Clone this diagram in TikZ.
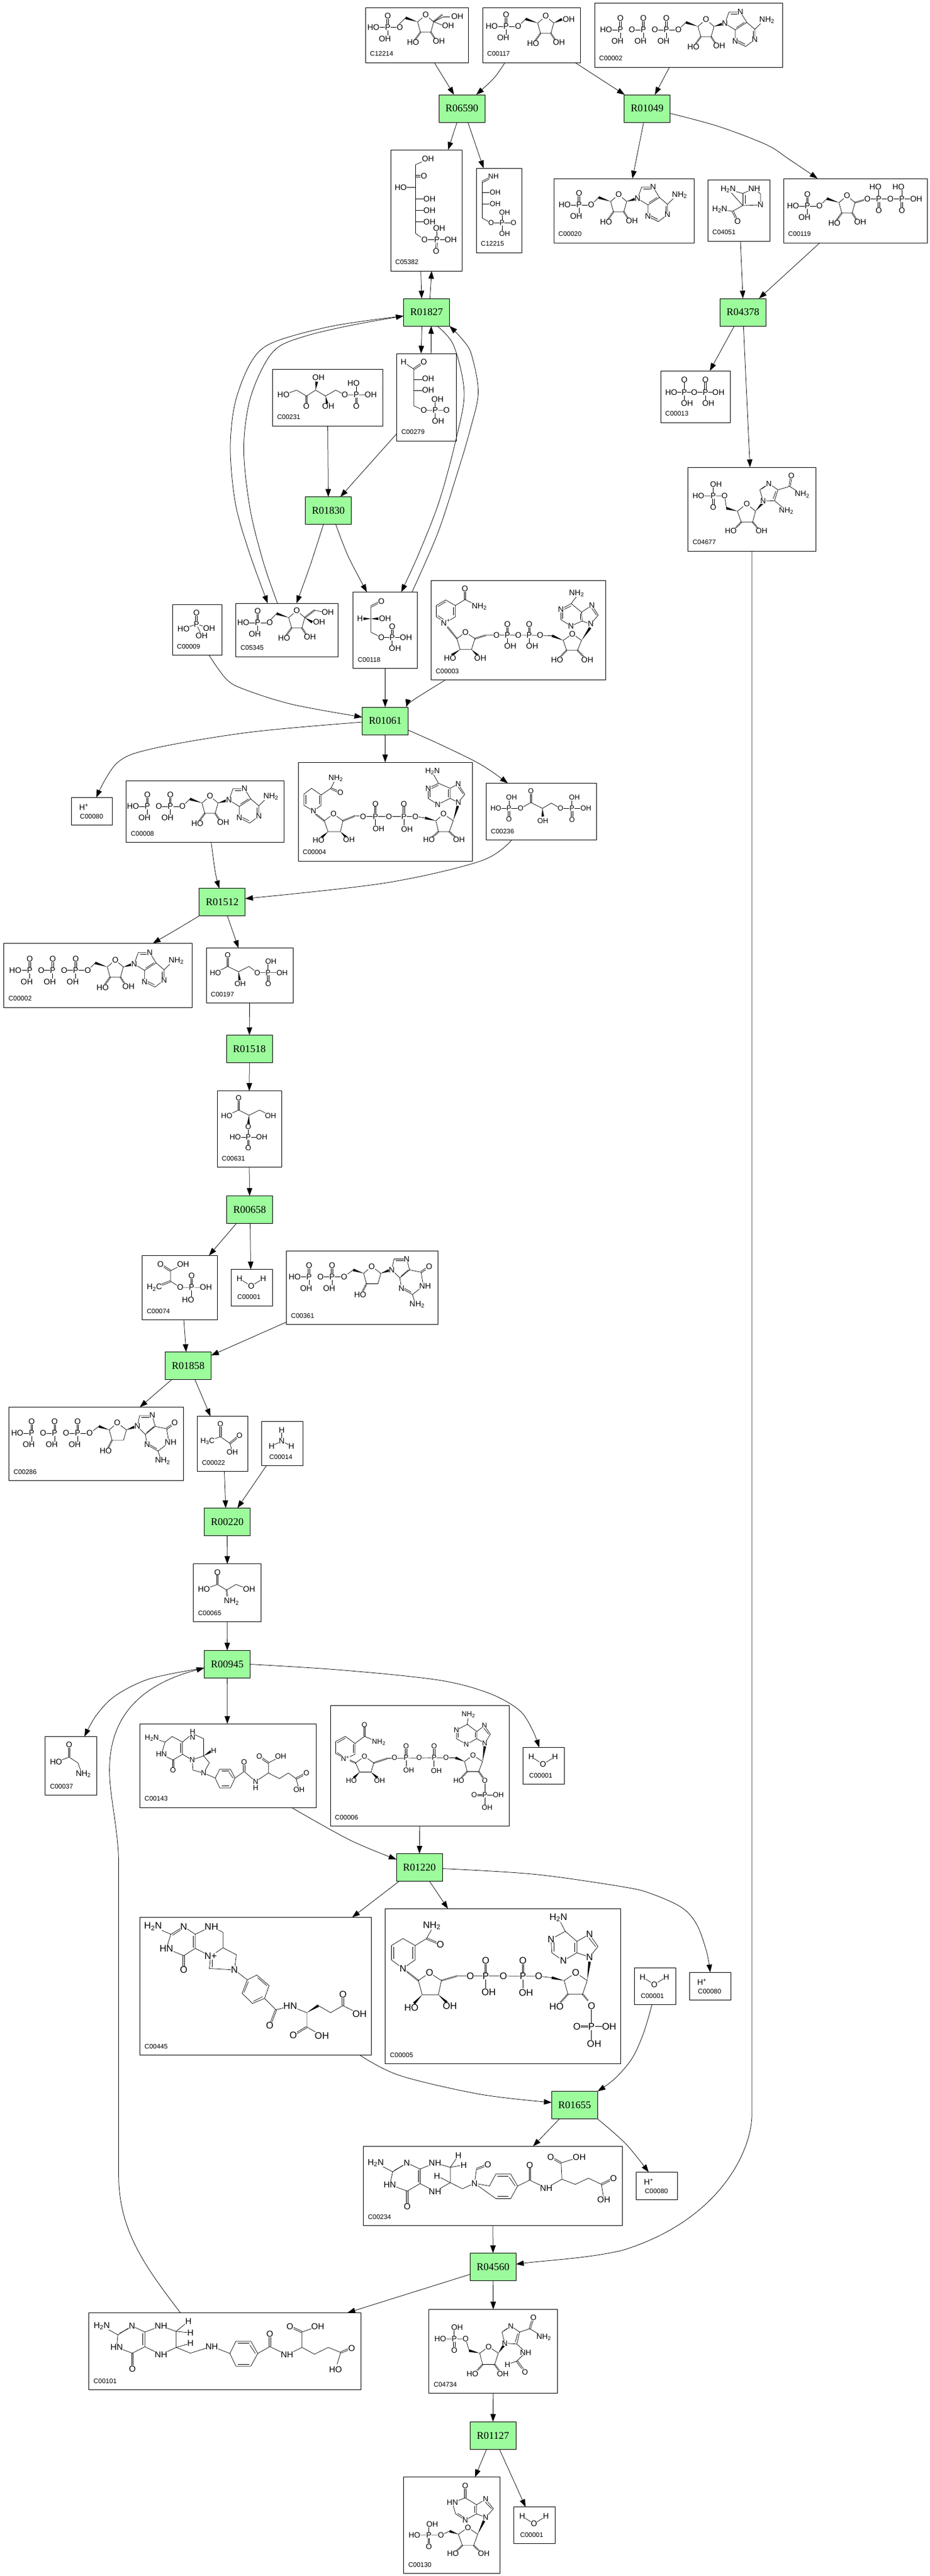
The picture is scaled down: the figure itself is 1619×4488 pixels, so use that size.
\documentclass[tikz,border=0pt]{standalone}
\usepackage{fontspec}
\setmainfont{Liberation Sans}
\newfontfamily\rxfont{Liberation Serif}
\usetikzlibrary{arrows.meta,calc}
\definecolor{rxgreen}{HTML}{9CFC9C}
\newcount\atc
\newif\ifatoms
\tikzset{
 cpd/.style={draw=black,line width=.9pt,fill=white,inner sep=0pt,outer sep=0pt},
 rxn/.style={draw=black,line width=.9pt,fill=rxgreen,inner sep=0pt,outer sep=0pt,minimum width=80pt,minimum height=48pt,font=\rxfont\fontsize{18}{18}\selectfont},
 idl/.style={anchor=west,inner sep=0pt,font=\fontsize{11.5}{11.5}\selectfont},
 edge/.style={draw=black,line width=.75pt,-{Triangle[length=13.5pt,width=9.5pt]}},
 bond/.style={draw=black,line width=.7pt},
 hash/.style={draw=black,line width=3pt,dash pattern=on .7pt off 1pt},
 atom/.style={fill=white,inner sep=.3pt,font=\fontsize{\fsz}{\fsz}\selectfont}
}
\newcommand\Rx[4]{\node[rxn] (#1) at (#2,#3) {#4};}
\newcommand\Cpd[7][8]{\pgfmathsetmacro\cx{(#3+#5)/2}\pgfmathsetmacro\cy{(#4+#6)/2}\pgfmathsetmacro\cw{#5-#3}\pgfmathsetmacro\ch{#6-#4}%
 \node[cpd,minimum width=\cw pt,minimum height=\ch pt] (#2) at (\cx,\cy) {};
 \node[idl] (#2-id) at ([xshift=#1,yshift=15]#2.south west) {#7};}
\newcommand\El[2]{\draw[edge] #1 -- #2;}
\newcommand\Ed[1]{\draw[edge] plot[smooth,tension=.55] coordinates {#1};}
\newcommand\Mol[4]{\begin{scope}[shift={(#1.north west)},x=#2pt,y=-#2pt]\def\fsz{#3}\atomsfalse #4\atomstrue #4\end{scope}}
\newcommand\At[3]{\ifatoms\global\advance\atc by 1 \node[atom] (at\the\atc) at (#1,#2) {#3};\fi}
\newcommand\Bd[1]{\ifatoms\else\draw[bond] #1;\fi}
\newcommand\Db[2]{\ifatoms\else\draw[bond] ($#1!1.2pt!90:#2$) -- ($#2!1.2pt!-90:#1$);\draw[bond] ($#1!1.2pt!-90:#2$) -- ($#2!1.2pt!90:#1$);\fi}
\newcommand\Wg[2]{\ifatoms\else\fill[black] #1 -- ($#2!2.3pt!90:#1$) -- ($#2!2.3pt!-90:#1$) -- cycle;\fi}
\newcommand\Hs[2]{\ifatoms\else\draw[hash] #1 -- #2;\fi}
\newcommand\Nt{NH\textsubscript{2}}
\newcommand\Nl{H\textsubscript{2}N}
\newcommand\Rib[2]{\begin{scope}[shift={(#1,#2)}]
 \Bd{(0,0)--(-14,12)--(-9,30)--(9,30)--(14,12)--cycle}
 \Wg{(-14,12)}{(-35,5)}\Bd{(-35,5)--(-48,18)}
 \Hs{(-9,30)}{(-19,44)}\Hs{(9,30)}{(18,44)}
 \At{0}{0}{O}\At{-22}{48}{HO}\At{23}{46}{OH}\end{scope}}
\newcommand\dRib[2]{\begin{scope}[shift={(#1,#2)}]
 \Bd{(0,0)--(-14,12)--(-9,30)--(11,30)--(16,12)--cycle}
 \Wg{(-14,12)}{(-32,6)}\Bd{(-32,6)--(-48,18)}
 \Hs{(-9,30)}{(-16,44)}
 \At{0}{0}{O}\At{-20}{49}{HO}\end{scope}}
\newcommand\Pch[4][-5]{\begin{scope}[shift={(#2,#3)}]
 \Bd{(0,0)--(-21,0)}\At{0}{0}{O}
 \foreach \k in {1,...,#4}{\pgfmathsetmacro\px{-21-40*(\k-1)}\pgfmathsetmacro\oh{\px+#1}\pgfmathsetmacro\qx{\px-20}\pgfmathsetmacro\hx{\px-25}
  \Db{(\px,0)}{(\px,-20)}\Bd{(\px,0)--(\px,15)}\Bd{(\px,0)--(\qx,0)}
  \At{\px}{0}{P}\At{\px}{-20}{O}\At{\oh}{20}{OH}
  \ifnum\k<#4 \At{\qx}{0}{O}\else \At{\hx}{0}{HO}\fi}
 \end{scope}}
\newcommand\Ade[2]{\begin{scope}[shift={(#1,#2)}]
 \Bd{(0,0)--(7,-20)--(27,-20)--(38,-2)--(18,11)--cycle}
 \Bd{(18,11)--(18,31)--(36,40)--(52,28)--(52,10)--(38,-2)}
 \Bd{(10,-17)--(24,-17)}\Bd{(20,7)--(34,-2)}\Bd{(21,29)--(35,36)}\Bd{(49,13)--(49,26)}
 \Bd{(52,10)--(62,0)}
 \At{0}{0}{N}\At{27}{-20}{N}\At{18}{31}{N}\At{52}{28}{N}\At{73}{-6}{\Nt}\end{scope}}
\newcommand\Gua[2]{\begin{scope}[shift={(#1,#2)}]
 \Bd{(0,0)--(4,-19)--(26,-19)--(31,0)--(14,14)--cycle}
 \Bd{(14,14)--(17,32)--(36,43)--(55,28)--(51,4)--(31,0)}
 \Bd{(7,-16)--(23,-16)}\Bd{(16,11)--(29,0)}\Bd{(20,31)--(34,39)}\Bd{(36,43)--(40,55)}
 \Db{(51,4)}{(65,-6)}
 \At{0}{0}{N}\At{26}{-19}{N}\At{17}{32}{N}\At{58}{28}{NH}\At{65}{-6}{O}\At{44}{60}{\Nt}\end{scope}}
\newcommand\AdeNuc[3]{\Rib{#1}{#2}\Pch{#1-48}{#2+18}{#3}\Wg{(#1+14,#2+12)}{(#1+28,#2+8)}\Ade{#1+33}{#2+7}}
\newcommand\GuaNuc[3]{\dRib{#1}{#2}\Pch{#1-48}{#2+18}{#3}\Wg{(#1+16,#2+12)}{(#1+30,#2+7)}\Gua{#1+35}{#2+6}}
\newcommand\Water{\Bd{(14.3,16)--(34.7,29.3)--(55.6,16)}\At{14.3}{16}{H}\At{34.7}{29.3}{O}\At{55.6}{16}{H}}
\begin{document}
\begin{tikzpicture}[x=1pt,y=-1pt]
\useasboundingbox (0,0) rectangle (1619,4488);
\fill[white] (0,0) rectangle (1619,4488);
% reactions
\Rx{r06590}{804}{189}{R06590}
\Rx{r01049}{1126.5}{189}{R01049}
\Rx{r01827}{742.6}{544}{R01827}
\Rx{r04378}{1293.3}{544}{R04378}
\Rx{r01830}{571.5}{889.7}{R01830}
\Rx{r01061}{670.5}{1256}{R01061}
\Rx{r01512}{386.8}{1571.6}{R01512}
\Rx{r01518}{434.2}{1827.4}{R01518}
\Rx{r00658}{434.5}{2107.3}{R00658}
\Rx{r01858}{327.5}{2379.5}{R01858}
\Rx{r00220}{395.6}{2651.5}{R00220}
\Rx{r00945}{395.6}{2899.5}{R00945}
\Rx{r01220}{730.2}{3253.5}{R01220}
\Rx{r01655}{1000.4}{3667.4}{R01655}
\Rx{r04560}{858.3}{3949.4}{R04560}
\Rx{r01127}{858.3}{4243.2}{R01127}
% compounds
\Cpd{c12214}{636}{13.6}{815}{109}{C12214}
\Cpd{c00117}{840}{13.6}{1010}{109}{C00117}
\Cpd{c00002a}{1035}{5}{1362}{117}{C00002}
\Cpd{c05382}{680}{261}{804}{472}{C05382}
\Cpd{c12215}{829}{293}{908}{440}{C12215}
\Cpd{c00020}{964}{311}{1208}{423}{C00020}
\Cpd{c04051}{1232}{313}{1340}{420}{C04051}
\Cpd{c00119}{1364}{311}{1614.5}{423}{C00119}
\Cpd{c00231}{474.4}{643}{666.7}{742}{C00231}
\Cpd{c00279}{690.7}{616}{794}{768}{C00279}
\Cpd{c00009}{300}{1053.5}{386.6}{1141.7}{C00009}
\Cpd{c05345}{410.6}{1051}{588.7}{1144}{C05345}
\Cpd{c00118}{614.7}{1031.5}{726.4}{1164.7}{C00118}
\Cpd{c00003}{750.4}{1011.6}{1054.5}{1184.6}{C00003}
\Cpd{c00013}{1150}{646}{1271.5}{736}{C00013}
\Cpd{c04677}{1197.7}{814}{1420.5}{960}{C04677}
\Cpd[15]{c00080a}{124}{1389.5}{195.5}{1437.5}{C00080}
\Cpd{c00008}{219.6}{1360}{494}{1467.5}{C00008}
\Cpd{c00004}{519}{1328}{822}{1500}{C00004}
\Cpd{c00236}{846.5}{1364.5}{1038.6}{1463.5}{C00236}
\Cpd{c00002b}{6.7}{1643.6}{334}{1755}{C00002}
\Cpd{c00197}{359}{1651.7}{510}{1747.6}{C00197}
\Cpd{c00631}{378}{1900.7}{490}{2033.4}{C00631}
\Cpd{c00074}{247.4}{2187.4}{378.6}{2299.4}{C00074}
\Cpd[10.5]{c00001a}{402.5}{2211.5}{474.5}{2275}{C00001}
\Cpd{c00361}{498.5}{2179.4}{762}{2307.4}{C00361}
\Cpd{c00286}{15.3}{2451.5}{319.4}{2579.5}{C00286}
\Cpd{c00022}{343.4}{2467.6}{431.6}{2563.4}{C00022}
\Cpd[13]{c00014}{455.6}{2476.8}{527.6}{2553.7}{C00014}
\Cpd{c00065}{336.7}{2724.8}{454.6}{2825.8}{C00065}
\Cpd{c00037}{78.8}{3025.6}{168.5}{3127.6}{C00037}
\Cpd{c00143}{243.5}{3003.3}{550}{3149}{C00143}
\Cpd{c00006}{575}{2971.4}{886.4}{3181.3}{C00006}
\Cpd[10.5]{c00001b}{910.5}{3044.5}{982}{3108.2}{C00001}
\Cpd{c00445}{243.5}{3340.5}{646.6}{3580.3}{C00445}
\Cpd{c00005}{670.7}{3325.6}{1080.5}{3595.2}{C00005}
\Cpd[11]{c00001c}{1104.3}{3428.3}{1176.7}{3492.7}{C00001}
\Cpd[15]{c00080b}{1200}{3436.3}{1272.7}{3484.7}{C00080}
\Cpd{c00234}{632.4}{3739.3}{1083.5}{3877.2}{C00234}
\Cpd[15]{c00080c}{1107.4}{3784.3}{1179}{3832.2}{C00080}
\Cpd{c00101}{154.7}{4029.3}{628.2}{4163.7}{C00101}
\Cpd{c04734}{746.8}{4023.4}{970.6}{4169.6}{C04734}
\Cpd{c00130}{702.6}{4315.8}{870.3}{4483}{C00130}
\Cpd[10.5]{c00001d}{894.8}{4367.8}{966.4}{4431}{C00001}
% edges
\El{([xshift=30.5]c12214.south)}{([xshift=-13.6]r06590.north)}
\Ed{([xshift=-46]c00117.south) (860,136) ([xshift=25]r06590.north)}
\El{([xshift=76]c00117.south)}{([xshift=-39]r01049.north)}
\El{([xshift=-33]c00002a.south)}{([xshift=13.5]r01049.north)}
\El{([xshift=-8.4]r06590.south)}{([xshift=38]c05382.north)}
\El{([xshift=10.5]r06590.south)}{([xshift=-26.7]c12215.north)}
\El{([xshift=-6]r01049.south)}{([xshift=15]c00020.north)}
\Ed{([yshift=-8.5]r01049.east) (1250,220) (1334,252) (1373,277) ([xshift=-66]c00119.north)}
\El{([xshift=-9.4]c05382.south)}{([xshift=-8.5]r01827.north)}
\El{([xshift=5.8]r01827.north)}{([xshift=9.4]c05382.south)}
\El{([xshift=3]c04051.south)}{(r04378.north)}
\El{([xshift=-62]c00119.south)}{([xshift=28]r04378.north)}
\Ed{([yshift=-6.4]r01827.west) (586,566.7) (494.3,589.7) (453.5,610) (428,648.4) (407.6,709.6) (401,786) (410,878) (433,959.6) ([xshift=-33.6]c05345.north)}
\Ed{([xshift=-16.6]c05345.north) (458.6,980) (435.6,888) (424.4,786) (433,704.5) (456,643) (484,605) (535,584.6) (611.6,566.7) ([yshift=-6.4]r01827.west)}
\El{([xshift=-8]r01827.south)}{([xshift=-9.3]c00279.north)}
\El{([xshift=8]c00279.north)}{([xshift=8]r01827.south)}
\Ed{([xshift=18.4]r01827.south) (790,602.4) (808,684) (793.8,765.7) (764.7,873) (729,964.7) ([xshift=27.9]c00118.north)}
\Ed{([xshift=46.7]c00118.north) (762,929) (795.3,827) (818,750.4) (832.5,684) (820.8,617.8) (805.5,592) ([xshift=40]r01827.south)}
\El{(c00231.south)}{(r01830.north)}
\El{([yshift=-63.5]c00279.west)}{([xshift=21]r01830.north)}
\Ed{([xshift=-8.5]r01830.south) (540,985) ([xshift=16.6]c05345.north)}
\Ed{([xshift=13]r01830.south) (606.5,970) ([xshift=-31.8]c00118.north)}
\Ed{([xshift=20.7]c00009.south) (394.8,1184) (428,1202) (509.6,1227.4) ([yshift=6.6]r01061.west)}
\El{(c00118.south)}{(r01061.north)}
\Ed{([xshift=-127]c00003.south) (719,1220) ([xshift=37]r01061.north)}
\Ed{([yshift=-2]r01061.west) (435,1275.7) (267.9,1303.8) (204,1329) ([xshift=7.7]c00080a.north)}
\El{(r01061.south)}{(c00004.north)}
\Ed{([yshift=-16]r01061.east) (770,1298.7) (837,1332) ([xshift=-58.5]c00236.north)}
\Ed{([xshift=10.8]c00008.south) (375,1520.6) ([xshift=-5]r01512.north)}
\Ed{([xshift=-52]c00236.south) (837,1500) (669.7,1538.5) ([yshift=6]r01512.east)}
\Ed{([xshift=-40]r01512.south) (314.7,1615) ([xshift=95.6]c00002b.north)}
\El{([xshift=9]r01512.south)}{([xshift=-19.3]c00197.north)}
\El{(c00197.south)}{(r01518.north)}
\El{(r01518.south)}{(c00631.north)}
\El{(c00631.south)}{(r00658.north)}
\El{([xshift=-22.8]r00658.south)}{([xshift=50.8]c00074.north)}
\El{([xshift=1]r00658.south)}{([xshift=-2]c00001a.north)}
\El{([xshift=7]c00074.south)}{([xshift=-3.5]r01858.north)}
\El{([yshift=-60]c00361.west)}{([yshift=18]r01858.east)}
\El{([xshift=-28.5]r01858.south)}{([xshift=76]c00286.north)}
\El{([xshift=11.8]r01858.south)}{([xshift=-21]c00022.north)}
\El{([xshift=3]c00022.south)}{([xshift=-2.7]r00220.north)}
\El{([xshift=-28]c00014.south)}{([xshift=17.6]r00220.north)}
\El{(r00220.south)}{(c00065.north)}
\El{(c00065.south)}{(r00945.north)}
\Ed{([yshift=-6.3]r00945.west) (261,2924.7) (200.6,2954.5) (167,2989.3) ([xshift=23.4]c00037.north)}
\El{(r00945.south)}{([xshift=-1]c00143.north)}
\Ed{(r00945.east) (595.7,2909.7) (763,2927) (850,2949.5) (903.8,2979.4) (927,3014) ([xshift=-7.6]c00001b.north)}
\draw[edge] ([xshift=-77.5]c00101.north) .. controls (258,3955) and (206.6,3890) .. (206.6,3790) -- (206.6,3248) .. controls (206.6,3190) and (190.6,3130) .. (190.6,3083.8) .. controls (190.6,2990) and (245,2935) .. ([yshift=-6.3]r00945.west);
\Ed{([xshift=110.6]c00143.south) (609,3205.7) ([yshift=14]r01220.west)}
\El{(c00006.south)}{(r01220.north)}
\El{([xshift=-35.4]r01220.south)}{([xshift=168]c00445.north)}
\El{([xshift=17.5]r01220.south)}{([xshift=-95.7]c00005.north)}
\Ed{([yshift=-2]r01220.east) (930.5,3265.4) (1083,3287) (1133,3299) (1186.7,3323.3) (1213,3353) (1230,3400) (c00080b.north)}
\Ed{([xshift=-5.5]c00001c.south) (1120,3543) (1100,3586.7) (1070,3621.7) ([xshift=40]r01655.north)}
\Ed{([xshift=181]c00445.south) (696,3616) (836.6,3648.8) ([yshift=4.4]r01655.west)}
\El{([xshift=-26.4]r01655.south)}{([xshift=70]c00234.north)}
\Ed{([xshift=39.6]r01655.south) (1089,3734.6) ([xshift=-14]c00080c.north)}
\El{(c00234.south)}{(r04560.north)}
\draw[edge] (c04677.south) -- ([yshift=-2722]c04677.south) .. controls ([yshift=-2790]c04677.south) and (1250,3870) .. (1082,3921) .. controls (1020,3935) and (950,3938) .. ([yshift=4.7]r04560.east);
\El{([yshift=-13]r04560.west)}{([xshift=213.5]c00101.north)}
\El{(r04560.south)}{(c04734.north)}
\El{(c04734.south)}{(r01127.north)}
\El{([xshift=-11.3]r01127.south)}{([xshift=40.3]c00130.north)}
\El{([xshift=11.2]r01127.south)}{([xshift=-15.6]c00001d.north)}
\El{([xshift=-15]r04378.south)}{([xshift=25]c00013.north)}
\Ed{([xshift=1]r04378.south) (1298.7,665.6) ([xshift=-3.4]c04677.north)}
% molecules
\Mol{c12214}{1}{14}{\Rib{105}{12.5}\Pch{60}{34}{1}
 \Bd{(119,24)--(136,16)--(147,16)}\Hs{(119,24)}{(134,12)}\Bd{(119,24)--(135,31)}\At{160}{15}{OH}\At{144}{31}{OH}}
\Mol{c00117}{1}{14}{\Rib{110}{14.5}\Pch{62}{32.5}{1}\Wg{(124,26.5)}{(138,20)}\At{150}{20}{OH}}
\Mol{c00002a}{1}{14}{\AdeNuc{194}{29}{3}}
\Mol{c00020}{1}{14}{\AdeNuc{113}{28}{1}}
\Mol{c05382}{1}{14}{\Bd{(65,16)--(43.5,26)--(43.5,145.7)--(59,156.4)--(80.6,156.4)--(104.6,156.4)}
 \Db{(43.5,45.7)}{(58,45.7)}\Bd{(17.5,65.7)--(43.5,65.7)}\Bd{(43.5,85.7)--(67.6,85.7)}\Bd{(43.5,105.7)--(67.6,105.7)}\Bd{(43.5,125.7)--(67.6,125.7)}
 \Bd{(80.6,156.4)--(80.6,142)}\Db{(80.6,156.4)}{(79.3,176.4)}
 \At{65}{16}{OH}\At{58}{45.7}{O}\At{17.5}{65.7}{HO}\At{67.6}{85.7}{OH}\At{67.6}{105.7}{OH}\At{67.6}{125.7}{OH}\At{59}{156.4}{O}\At{80.6}{156.4}{P}\At{104.6}{156.4}{OH}\At{84.5}{136.4}{OH}\At{79.3}{176.4}{O}}
\Mol{c12215}{1}{12.5}{\Db{(30,14)}{(10.4,24)}\Bd{(10.4,24)--(10.4,87)--(26,95.4)--(65,95.4)}\Bd{(10.4,42.5)--(33,42.5)}\Bd{(10.4,62)--(33,62)}\Bd{(45,95.4)--(45,77.5)}\Bd{(45,95.4)--(45,114)}
 \At{30}{14}{NH}\At{33}{42.5}{OH}\At{33}{62}{OH}\At{26}{95.4}{O}\At{45}{95.4}{P}\At{65}{95.4}{O}\At{49.4}{77.5}{OH}\At{49.4}{114}{OH}}
\Mol{c04051}{1}{14}{\Bd{(35.7,17)--(61,24)--(81,15.4)--(92,25)--(92,44)--(61,45)--cycle}\Bd{(65,27)--(65,42)}\Bd{(61,45)--(43.5,55)--(21,52)}\Db{(43.5,55)}{(52,72.5)}\Bd{(61,24)--(61,45)}
 \At{35.7}{17}{\Nl}\At{81}{15.4}{NH}\At{92}{44}{N}\At{21}{52}{\Nl}\At{52}{72.5}{O}}
\Mol{c00119}{1}{14}{\Rib{110.5}{30}\Pch{62.5}{48}{1}\Hs{(124.5,42)}{(146,35.7)}
 \Bd{(146,35.7)--(231,35.7)}\Db{(165.7,35.7)}{(165.7,55.7)}\Db{(206,35.7)}{(206,55.7)}\Bd{(165.7,35.7)--(165.7,18)}\Bd{(206,35.7)--(206,18)}
 \At{146}{35.7}{O}\At{165.7}{35.7}{P}\At{186}{35.7}{O}\At{206}{35.7}{P}\At{231}{35.7}{OH}\At{160}{14.6}{HO}\At{200}{14.6}{HO}\At{165.7}{55.7}{O}\At{206}{55.7}{O}}
\Mol{c00231}{1}{14}{\Bd{(19,45)--(42,36.7)--(59,47)--(75,36.7)--(92.3,47)--(110,36.7)--(126,45)--(171,45)}\Db{(59,47)}{(59,65)}\Wg{(75,36.7)}{(77,22)}\Wg{(92.3,47)}{(95,60)}\Bd{(146,45)--(146,28)}\Db{(146,45)}{(146,65)}
 \At{19}{45}{HO}\At{59}{65}{O}\At{80}{15}{OH}\At{97}{65}{OH}\At{126}{45}{O}\At{146}{45}{P}\At{141}{24.5}{HO}\At{171}{45}{OH}\At{146}{65}{O}}
\Mol{c00279}{1}{14}{\Bd{(12,15)--(29.6,27)--(29.6,91)--(47,99)--(86.7,99)}\Db{(29.6,27)}{(47,15)}\Bd{(29.6,45)--(54.6,45)}\Bd{(29.6,64)--(54.6,64)}\Bd{(67,99)--(67,84)}\Bd{(67,99)--(67,113)}
 \At{12}{15}{H}\At{47}{15}{O}\At{54.6}{44}{OH}\At{54.6}{64}{OH}\At{47}{99}{O}\At{67}{99}{P}\At{71}{79.6}{OH}\At{86.7}{99}{O}\At{72}{118}{OH}}
\Mol{c00009}{1}{14}{\Db{(42,33.7)}{(42,14.3)}\Bd{(42,33.7)--(19.4,42)}\Bd{(42,33.7)--(64,41)}\Bd{(42,33.7)--(51,54)}
 \At{42}{33.7}{P}\At{42}{14.3}{O}\At{19.4}{42}{HO}\At{64}{41}{OH}\At{51}{54}{OH}}
\Mol{c05345}{1}{14}{\Rib{106}{13}\Pch{59}{34}{1}\Wg{(120,25)}{(133,33)}\Hs{(120,25)}{(137,12)}\Bd{(137,12)--(150,15)}\At{160}{15.8}{OH}\At{145}{32.7}{OH}}
\Mol{c00118}{1}{14}{\Db{(49,16)}{(31,25)}\Bd{(31,25)--(31,70)--(49,79)--(92,79)}\Wg{(31,46.4)}{(18,46.4)}\Wg{(31,46.4)}{(44,46.4)}\Db{(68,79)}{(68,60)}\Bd{(68,79)--(68,94)}
 \At{49}{16}{O}\At{12}{46.4}{H}\At{55.6}{46.4}{OH}\At{49}{79}{O}\At{68}{79}{P}\At{68}{60}{O}\At{92}{79}{OH}\At{73}{98.5}{OH}}
\Mol{c00003}{1}{14}{\Bd{(25.5,73)--(42.3,63)--(42.3,43.4)--(25.5,33.7)--(9,43.4)--(9,63)--cycle}\Bd{(39,60)--(39,46)}\Bd{(25.5,37)--(12,45)}\Bd{(12,61)--(24,69)}
 \Bd{(42.3,43.4)--(59,33)--(84,45)}\Db{(59,33)}{(59,14)}\Hs{(45,101)}{(28,80)}
 \Bd{(60,90)--(45,101)--(50.5,120)--(70.4,120)--(76.5,101)--cycle}\Hs{(76.5,101)}{(96,95)}\Wg{(50.5,120)}{(36,130)}\Wg{(70.4,120)}{(82,131)}
 \Bd{(96,95)--(190,95.4)--(210.7,96)}\Db{(133,95.4)}{(133,76.5)}\Db{(171,95.4)}{(171,76.5)}\Bd{(133,95.4)--(133,110)}\Bd{(171,95.4)--(171,110)}
 \Wg{(230,104)}{(210.7,96)}\Bd{(246,93)--(230,104)--(236,121.4)--(255,121.4)--(262,104)--cycle}\Hs{(236,121.4)}{(224,134)}\Hs{(255,121.4)}{(267,134)}\Wg{(262,104)}{(277,82)}
 \Bd{(278,75.5)--(291,60)--(280,43)--(262,55)--(263,70.4)--cycle}\Bd{(263,70.4)--(243.6,79)--(226,68)--(226,50)--(244,40)--(262,55)}\Bd{(244,40)--(253,28)}\Bd{(288,60)--(279,47)}\Bd{(260,57)--(260,68)}\Bd{(229,52)--(229,66)}\Bd{(244,44)--(232,50)}
 \At{59}{14}{O}\At{84}{45}{\Nt}\At{25.5}{73}{N\textsuperscript{+}}\At{60}{90}{O}\At{33}{135}{HO}\At{85.7}{135}{OH}\At{113.8}{95.4}{O}\At{133}{95.4}{P}\At{152}{95.4}{O}\At{171}{95.4}{P}\At{190}{95.4}{O}\At{133}{76.5}{O}\At{171}{76.5}{O}\At{138}{113.8}{OH}\At{176}{113.8}{OH}
 \At{246}{93}{O}\At{219.4}{138}{HO}\At{272}{138}{OH}\At{278}{75.5}{N}\At{280}{43}{N}\At{243.6}{79}{N}\At{226}{50}{N}\At{253.3}{22}{\Nt}}
\Mol{c00013}{1}{14}{\Bd{(18.5,37.7)--(100.7,37.7)}\Bd{(41.4,37.7)--(41.4,15.2)}\Bd{(41.4,37.7)--(41.4,52)}\Db{(78,37.7)}{(78,15.2)}\Bd{(78,37.7)--(78,52)}
 \At{18.5}{37.7}{HO}\At{41.4}{37.7}{P}\At{41.4}{15.2}{O}\At{46}{56.6}{OH}\At{58.6}{37.7}{O}\At{78}{37.7}{P}\At{78}{15.2}{O}\At{83}{56.6}{OH}\At{100.7}{37.7}{OH}}
\Mol{c04677}{1}{13.5}{\Bd{(18,50)--(63.6,50)--(67,71.5)}\Bd{(44,50)--(44,35)}\Db{(44,50)}{(44,70)}\Wg{(86,76.5)}{(67,71.5)}
 \Bd{(102.3,64)--(86,76.5)--(92.7,95.7)--(112.6,95.7)--(117.5,76.5)--cycle}\Hs{(92.7,95.7)}{(82,107)}\Hs{(112.6,95.7)}{(122,107)}\Wg{(117.5,76.5)}{(130,62)}
 \Bd{(130.8,59)--(125,39.4)--(140.7,28.5)--(156.6,39.4)--(150.7,58.3)--cycle}\Bd{(128,38)--(138,31)}\Bd{(153,42)--(148,55)}\Bd{(156.6,39.4)--(177,33.4)--(198.7,47.4)}\Db{(177,33.4)}{(180,14.6)}\Bd{(150.7,58.3)--(171,75.8)}
 \At{18}{50}{HO}\At{44}{50}{P}\At{48.7}{30}{OH}\At{44}{70}{O}\At{63.6}{50}{O}\At{102.3}{64}{O}\At{74.5}{110.6}{HO}\At{128}{110.6}{OH}\At{130.8}{59}{N}\At{140.7}{28.5}{N}\At{180}{14.6}{O}\At{198.7}{47.4}{\Nt}\At{171}{75.8}{\Nt}}
\Mol{c00080a}{1}{14}{\At{22}{17}{H\textsuperscript{+}}}
\Mol{c00080b}{1}{14}{\At{22}{17}{H\textsuperscript{+}}}
\Mol{c00080c}{1}{14}{\At{22}{17}{H\textsuperscript{+}}}
\Mol{c00008}{1}{14}{\AdeNuc{146}{27}{2}}
\Mol{c00004}{1}{13.5}{\Bd{(26.8,85)--(40,75)--(40,57)--(23.4,45.4)--(10,55.6)--(10,75)--cycle}\Bd{(37,58)--(37,73)}\Bd{(13,57)--(13,73)}\Bd{(40,57)--(57,45.4)--(65.6,28)}\Db{(57,45.4)}{(73.7,53)}\Hs{(45.5,102)}{(30,90)}
 \Bd{(61.6,90)--(45.5,102)--(52,121)--(73.7,121)--(78,102)--cycle}\Wg{(52,121)}{(41,131)}\Wg{(73.7,121)}{(84,131)}\Hs{(78,102)}{(100,93)}
 \Bd{(100,93)--(113,94.4)--(204,94.4)--(221,97)}\Db{(134.6,94.4)}{(134.6,72.4)}\Db{(184,94.4)}{(184,72.4)}\Bd{(134.6,94.4)--(134.6,110)}\Bd{(184,94.4)--(184,110)}\Wg{(239.7,102)}{(221,97)}
 \Bd{(253,90)--(239.7,102)--(244.4,121)--(263,121)--(270,102)--cycle}\Hs{(244.4,121)}{(233,131)}\Hs{(263,121)}{(274,131)}\Wg{(270,102)}{(278,76)}
 \Bd{(279,70)--(290,56)--(278.8,37.8)--(264.6,45.4)--(264.6,63)--cycle}\Bd{(264.6,63)--(243,73.5)--(226.4,63)--(226.4,45.4)--(244.4,36.7)--(264.6,45.4)}\Bd{(244.4,36.7)--(236,22)}\Bd{(287,55)--(278,42)}\Bd{(261.6,47)--(261.6,61)}\Bd{(229.4,47)--(229.4,61)}\Bd{(244,40)--(232,46)}
 \At{26.8}{85}{N}\At{65.6}{28}{\Nt}\At{73.7}{53}{O}\At{61.6}{90}{O}\At{35.5}{136}{HO}\At{88.4}{135}{OH}\At{113}{94.4}{O}\At{134.6}{94.4}{P}\At{158}{94.4}{O}\At{184}{94.4}{P}\At{204}{94.4}{O}\At{134.6}{72.4}{O}\At{184}{72.4}{O}\At{140}{115.8}{OH}\At{189.5}{116.8}{OH}
 \At{253}{90}{O}\At{227.7}{134.7}{HO}\At{280}{134.7}{OH}\At{279}{70}{N}\At{278.8}{37.8}{N}\At{243}{73.5}{N}\At{226.4}{45.4}{N}\At{234}{16}{\Nl}}
\Mol{c00236}{1}{12.5}{\Bd{(16.7,43.9)--(59.6,43.9)--(77.7,33.7)--(97.8,43.9)--(113.2,34.7)--(129.2,43.9)--(173.4,43.9)}\Bd{(39.5,43.9)--(39.5,30)}\Db{(39.5,43.9)}{(39.5,62.8)}\Db{(77.7,33.7)}{(77.7,13.3)}\Wg{(97.8,43.9)}{(98.4,58)}\Bd{(149.3,43.9)--(149.3,30)}\Db{(149.3,43.9)}{(149.3,63.3)}
 \At{16.7}{43.9}{HO}\At{39.5}{43.9}{P}\At{44}{25}{OH}\At{39.5}{62.8}{O}\At{59.6}{43.9}{O}\At{77.7}{13.3}{O}\At{98.4}{65.3}{OH}\At{129.2}{43.9}{O}\At{149.3}{43.9}{P}\At{153.4}{25}{OH}\At{173.4}{43.9}{OH}\At{149.3}{63.3}{O}}
\Mol{c00002b}{1}{14}{\AdeNuc{194}{29}{3}}
\Mol{c00197}{1}{13}{\Bd{(16,42.9)--(37.5,32)--(56.3,41.3)--(74.3,32)--(89,42.9)--(132,42.9)}\Db{(37.5,32)}{(37.5,12.8)}\Wg{(56.3,41.3)}{(58,56)}\Bd{(107.8,42.9)--(107.8,28)}\Db{(107.8,42.9)}{(107.8,62.2)}
 \At{16}{42.9}{HO}\At{37.5}{12.8}{O}\At{59}{62.8}{OH}\At{89}{42.9}{O}\At{107.8}{42.9}{P}\At{112.5}{23.5}{OH}\At{132}{42.9}{OH}\At{107.8}{62.2}{O}}
\Mol{c00631}{1}{13}{\Db{(37.5,33.2)}{(37.5,12.8)}\Bd{(16.7,42.9)--(37.5,33.2)--(55.6,42.3)--(73.7,33.2)--(93,42.9)}\Wg{(55.6,42.3)}{(54.5,57)}\Bd{(54.2,62.8)--(54.2,80.6)}\Bd{(31.5,80.6)--(77.7,80.6)}\Db{(54.2,80.6)}{(54.2,99.5)}
 \At{37.5}{12.8}{O}\At{16.7}{42.9}{HO}\At{93}{42.9}{OH}\At{54.2}{62.8}{O}\At{54.2}{80.6}{P}\At{31.5}{80.6}{HO}\At{77.7}{80.6}{OH}\At{54.2}{99.5}{O}}
\Mol{c00074}{1}{14}{\Db{(32,15.5)}{(49.5,26.4)}\Bd{(49.5,26.4)--(71.4,15.5)}\Bd{(49.5,26.4)--(49.5,44.8)--(66.3,55.7)--(111,55.7)}\Db{(21.4,55.7)}{(49.5,44.8)}\Db{(86.2,55.7)}{(86.2,35)}\Bd{(86.2,55.7)--(86.2,72)}
 \At{32}{15.5}{O}\At{71.4}{15.5}{OH}\At{21.4}{55.7}{H\textsubscript{2}C}\At{66.3}{55.7}{O}\At{86.2}{55.7}{P}\At{86.2}{35}{O}\At{111}{55.7}{OH}\At{80}{77.5}{HO}}
\Mol{c00001a}{1}{14}{\Water}
\Mol{c00001b}{1}{14}{\Water}
\Mol{c00001c}{1}{14}{\Water}
\Mol{c00001d}{1}{14}{\Water}
\Mol{c00361}{1}{14}{\GuaNuc{148.5}{27}{2}}
\Mol{c00286}{1}{14}{\GuaNuc{188.8}{27.6}{3}}
\Mol{c00022}{1}{13}{\Bd{(18,43)--(40.3,35.6)--(57,47)}\Db{(40.3,35.6)}{(40.3,13.2)}\Db{(57,47)}{(73.5,33.3)}\Bd{(57,47)--(61,62)}
 \At{18}{43}{H\textsubscript{3}C}\At{40.3}{13.2}{O}\At{73.5}{33.3}{O}\At{61}{62}{OH}}
\Mol{c00014}{1}{14}{\Bd{(34.7,14.4)--(34.7,34)}\Bd{(17.3,42.5)--(34.7,34)--(51.5,42.5)}\At{34.7}{14.4}{H}\At{34.7}{34}{N}\At{17.3}{42.5}{H}\At{51.5}{42.5}{H}}
\Mol{c00065}{1}{14}{\Db{(41.8,35.6)}{(41.8,14.4)}\Bd{(18.4,44.2)--(41.8,35.6)--(57.7,45.4)--(74,35.6)--(97,44.2)}\Hs{(57.7,45.4)}{(59,57)}
 \At{41.8}{14.4}{O}\At{18.4}{44.2}{HO}\At{97}{44.2}{OH}\At{66.3}{65.4}{\Nt}}
\Mol{c00037}{1}{14}{\Db{(41.5,35.8)}{(41.5,14.4)}\Bd{(18.8,44.3)--(41.5,35.8)--(57,45.8)--(62,60)}
 \At{41.5}{14.4}{O}\At{18.8}{44.3}{HO}\At{66.3}{64.7}{\Nt}}
\Mol{c00143}{1}{13}{\Bd{(20.8,24.4)--(44,31.8)--(56,22)--(74.3,31.8)--(74.3,53)--(57.6,63)--(37.5,53)--(44,31.8)}\Bd{(71,34)--(71,51)}\Db{(57.6,63)}{(57.6,80.6)}\Bd{(74.3,31.8)--(91.7,17)--(111,26)--(111,55.7)--(91,63)--(74.3,53)}\Bd{(91,63)--(92.4,80.6)--(111,85.6)--(121,68)--(111,55.7)}\Wg{(111,55.7)}{(124,48)}
 \Bd{(111,85.6)--(131.2,94.5)}\Bd{(131.2,94.5)--(139,79)--(157.6,79)--(165.6,94.5)--(157.6,111.7)--(139,111.7)--cycle}\Bd{(142,82)--(155,82)}\Bd{(142,108.5)--(155,108.5)}\Bd{(162,94.5)--(155,84)}\Bd{(165.6,94.5)--(181.5,83)--(201.6,100.5)--(223.7,85.6)--(223.7,68)--(245,57)}\Db{(181.5,83)}{(181.5,66.7)}\Db{(223.7,68)}{(208,57)}\Bd{(223.7,85.6)--(243,95.5)--(258.5,85.6)--(272,95.5)--(277,114.4)}\Db{(272,95.5)}{(290,85.6)}
 \At{20.8}{24.4}{\Nl}\At{37.5}{53}{HN}\At{57.6}{80.6}{O}\At{91}{63}{N}\At{91.7}{13.4}{H}\At{91.7}{24}{N}\At{128.6}{46.8}{H}\At{111}{85.6}{N}\At{181.5}{66.7}{O}\At{201.6}{100.5}{N}\At{201.6}{112}{H}\At{208}{57}{O}\At{245}{57}{OH}\At{290}{85.6}{O}\At{277}{114.4}{OH}}
\Mol{c00006}{1}{12.5}{\Bd{(26,92.5)--(43,85)--(43,66)--(26,53.7)--(9.4,62.7)--(9.4,83.6)--cycle}\Bd{(40,83)--(40,68)}\Bd{(26,57)--(12,65)}\Bd{(12,82)--(24,90)}\Bd{(43,66)--(59.6,53.7)--(84.4,64)}\Db{(59.6,53.7)}{(59.6,33.3)}\Hs{(44,100)}{(28,93)}
 \Bd{(59.6,88.5)--(44,100)--(51,116)--(71,116)--(75.7,100)--cycle}\Wg{(51,116)}{(41,126)}\Wg{(71,116)}{(82,126)}\Hs{(75.7,100)}{(100,92)}
 \Bd{(100,92)--(218,91)}\Db{(132,91)}{(132,70.6)}\Db{(180.8,91)}{(180.8,70.6)}\Bd{(132,91)--(132,107)}\Bd{(180.8,91)--(180.8,107)}\Wg{(233.7,97.5)}{(218,91)}
 \Bd{(248.4,86.6)--(233.7,97.5)--(238.4,115)--(258.5,115)--(265,97.5)--cycle}\Hs{(238.4,115)}{(228,126)}\Hs{(258.5,115)}{(266,126)}\Wg{(265,97.5)}{(269,71)}
 \Bd{(269,66)--(278.6,50)--(268.5,35)--(255,45.3)--(255,57.7)--cycle}\Bd{(255,57.7)--(237,67.6)--(219.6,57.7)--(219.6,42.8)--(238.4,32.8)--(255,45.3)}\Bd{(238.4,32.8)--(240,22)}\Bd{(252,47)--(252,56)}\Bd{(222.6,45)--(222.6,56)}\Bd{(275.6,50)--(267,39)}
 \Bd{(269,130.8)--(269,178)}\Db{(250.5,156)}{(269,156)}\Bd{(269,156)--(292.6,156)}
 \At{26}{92.5}{N\textsuperscript{+}}\At{59.6}{33.3}{O}\At{84.4}{64}{\Nt}\At{59.6}{88.5}{O}\At{36.8}{130.8}{HO}\At{85.7}{130.8}{OH}\At{111.8}{91}{O}\At{132}{91}{P}\At{154.7}{91}{O}\At{180.8}{91}{P}\At{201.6}{91}{O}\At{132}{70.6}{O}\At{180.8}{70.6}{O}\At{136.6}{112.4}{OH}\At{184.8}{113.4}{OH}
 \At{248.4}{86.6}{O}\At{223.7}{130.8}{HO}\At{269}{130.8}{O}\At{269}{156}{P}\At{250.5}{156}{O}\At{292.6}{156}{OH}\At{273}{178}{OH}\At{269}{66}{N}\At{268.5}{35}{N}\At{237}{67.6}{N}\At{219.6}{42.8}{N}\At{240.4}{16}{\Nt}}
\Mol{c00445}{1}{16.5}{\Bd{(22.8,16)--(54,29.4)--(76.3,16)--(96.4,29.4)--(96.4,54)--(76.3,66.7)--(46.2,54.2)--(54,29.4)}\Bd{(93,32)--(93,52)}\Bd{(57,31)--(74,20)}\Db{(76.3,66.7)}{(76.3,91.5)}\Bd{(96.4,29.4)--(124.6,16)--(144.7,26)--(144.7,53)--(168,65)--(164.7,91.5)--(121,89)--(123.2,67.6)--(96.4,54)}\Bd{(144.7,53)--(123.2,67.6)}\Bd{(126,70)--(126,86)}
 \Bd{(164.7,91.5)--(187,108.8)}\Bd{(187,108.8)--(203.6,100.5)--(225,118.8)--(217,141.2)--(196,150)--(178,132.3)--cycle}\Bd{(205,105)--(221,119)}\Bd{(214,138)--(198,146)}\Bd{(181,131)--(189,112)}\Bd{(217,141.2)--(237,161)--(261.8,154.7)--(290.6,166)--(290.6,191)}\Db{(237,161)}{(226,188.5)}\Wg{(290.6,166)}{(310.7,153.7)}\Bd{(310.7,153.7)--(332,166)--(353.5,153.7)--(382.4,168.6)}\Db{(353.5,153.7)}{(353.5,134.3)}\Db{(290.6,191)}{(267,205)}\Bd{(290.6,191)--(316.8,206)}
 \At{22.8}{16}{\Nl}\At{76.3}{16}{N}\At{46.2}{54.2}{HN}\At{76.3}{91.5}{O}\At{124.6}{16}{NH}\At{123.2}{67.6}{N+}\At{164.7}{91.5}{N}\At{226}{188.5}{O}\At{261.8}{154.7}{HN}\At{353.5}{134.3}{O}\At{382.4}{168.6}{OH}\At{267}{205}{O}\At{316.8}{206}{OH}}
\Mol{c00005}{1}{16.5}{\Bd{(30.8,104)--(52,89)--(52,64)--(30.8,51.7)--(10.7,64)--(10.7,89)--cycle}\Bd{(48,66)--(48,87)}\Bd{(14.7,66)--(14.7,87)}\Bd{(52,64)--(72,51.7)--(81,35)}\Db{(72,51.7)}{(95.8,61.7)}\Hs{(57.6,125)}{(36,108)}
 \Bd{(77,111.4)--(57.6,125)--(64.3,149.7)--(92.4,149.7)--(97.8,125)--cycle}\Wg{(64.3,149.7)}{(50,165)}\Wg{(92.4,149.7)}{(107,163)}\Hs{(97.8,125)}{(125,117)}
 \Bd{(125,117)--(267,117.4)--(290,120)}\Db{(174.8,117.4)}{(174.8,90)}\Db{(239.7,117.4)}{(239.7,90)}\Bd{(174.8,117.4)--(174.8,138)}\Bd{(239.7,117.4)--(239.7,138)}\Wg{(311.4,125)}{(290,120)}
 \Bd{(331.5,111.4)--(311.4,125)--(318,148.7)--(343.5,148.7)--(351.6,125)--cycle}\Hs{(318,148.7)}{(305,163)}\Hs{(343.5,148.7)}{(353,160)}\Wg{(351.6,125)}{(355.6,92)}
 \Bd{(355.6,84)--(370.3,65.7)--(355.6,44.3)--(333.5,56.7)--(333.5,76.6)--cycle}\Bd{(333.5,76.6)--(310,90.5)--(290,76.6)--(288.6,52.7)--(313.4,39.3)--(333.5,56.7)}\Bd{(313.4,39.3)--(305,23)}\Bd{(329.5,59)--(329.5,75)}\Bd{(294,56)--(294,74)}\Bd{(366,65.7)--(354,50)}
 \Bd{(359,169.6)--(359,234)}\Db{(333.5,205)}{(359,205)}\Bd{(359,205)--(389.7,205)}
 \At{30.8}{104}{N}\At{81}{29.3}{\Nt}\At{95.8}{61.7}{O}\At{77}{111.4}{O}\At{45.5}{172}{HO}\At{112.5}{169.6}{OH}\At{148}{117.4}{O}\At{174.8}{117.4}{P}\At{205.6}{117.4}{O}\At{239.7}{117.4}{P}\At{267}{117.4}{O}\At{174.8}{90}{O}\At{239.7}{90}{O}\At{180}{145}{OH}\At{245}{146}{OH}
 \At{331.5}{111.4}{O}\At{298}{170.6}{HO}\At{359}{169.6}{O}\At{359}{205}{P}\At{333.5}{205}{O}\At{389.7}{205}{OH}\At{363.6}{234.8}{OH}\At{355.6}{84}{N}\At{355.6}{44.3}{N}\At{310}{90.5}{N}\At{288.6}{52.7}{N}\At{301.4}{15}{\Nl}}
\Mol{c00234}{1}{15}{\Bd{(21.7,29)--(51.2,44.4)--(75.8,29)--(99,39.7)--(99,65)--(76.5,78)--(46.3,67)--(51.2,44.4)}\Bd{(95.5,42)--(95.5,63)}\Bd{(54,42)--(72,32)}\Db{(76.5,78)}{(76.5,104.8)}\Bd{(99,39.7)--(124.9,29)--(151.5,36.7)--(151.5,63.3)--(124.9,78.7)--(99,65)}\Bd{(151.5,36.7)--(165.6,16)}\Bd{(151.5,36.7)--(174.8,32.5)}\Bd{(151.5,63.3)--(128.4,51.5)}\Bd{(151.5,63.3)--(172.6,74)--(193.6,64.5)--(197,39.7)}\Db{(197,39.7)}{(216.8,32)}
 \Bd{(193.6,64.5)--(219.6,69.2)--(230.8,48.5)--(256.7,48.5)--(268.7,69.2)--(256.7,91.1)--(230.8,91.1)--cycle}\Bd{(234,52)--(253,52)}\Bd{(234,87.5)--(253,87.5)}\Bd{(264.5,69.2)--(254,54)}\Bd{(268.7,69.2)--(289.7,59)--(318.5,72.8)--(345.8,57.4)--(344.4,29)--(376,19)}\Db{(289.7,59)}{(289.7,32.5)}\Db{(344.4,29)}{(326.2,19)}\Bd{(345.8,57.4)--(369,66.3)--(392,55.6)--(414.6,66.3)--(418.8,93)}\Db{(414.6,66.3)}{(435.6,56.2)}
 \At{21.7}{29}{\Nl}\At{75.8}{29}{N}\At{46.3}{67}{HN}\At{76.5}{104.8}{O}\At{124.9}{29}{NH}\At{124.9}{78.7}{NH}\At{165.6}{16}{H}\At{174.8}{32.5}{H}\At{128.4}{51.5}{H}\At{193.6}{64.5}{N}\At{216.8}{32}{O}\At{289.7}{32.5}{O}\At{318.5}{72.8}{NH}\At{326.2}{19}{O}\At{376}{19}{OH}\At{435.6}{56.2}{O}\At{418.8}{93}{OH}}
\Mol{c00101}{1}{15}{\Bd{(22.4,23)--(50.5,38.5)--(75,23)--(97.5,33.7)--(97.5,59.2)--(75.8,70.4)--(48.4,60.4)--(50.5,38.5)}\Bd{(94,36)--(94,57)}\Bd{(53,36)--(72,26)}\Db{(75.8,70.4)}{(75.8,97.7)}\Bd{(97.5,33.7)--(125.6,23)--(152,32.5)--(152,60.4)--(125.6,72.8)--(97.5,59.2)}\Bd{(152,32.5)--(173.3,14.8)}\Bd{(152,32.5)--(176.8,35)}\Bd{(152,60.4)--(176.8,53.3)}\Bd{(152,60.4)--(176.8,70.4)--(214,58.6)--(245.5,71)}
 \Bd{(245.5,71)--(256,49.7)--(282,49.7)--(294,71)--(282,93)--(256,93)--cycle}\Bd{(259,53)--(279,53)}\Bd{(259,89.5)--(279,89.5)}\Bd{(290,71)--(280,56)}\Bd{(294,71)--(315,59)--(345,73.4)--(371,60.4)--(371,33.7)--(398.5,23.7)}\Db{(315,59)}{(315,36.7)}\Db{(371,33.7)}{(350,23.7)}\Bd{(371,60.4)--(392.8,72.2)--(416.7,60.4)--(438.4,69.2)--(432,90)}\Db{(438.4,69.2)}{(457.4,61.6)}
 \At{22.4}{23}{\Nl}\At{75}{23}{N}\At{48.4}{60.4}{HN}\At{75.8}{97.7}{O}\At{125.6}{23}{NH}\At{125.6}{72.8}{NH}\At{173.3}{14.8}{H}\At{176.8}{35}{H}\At{176.8}{53.3}{H}\At{214}{58.6}{NH}\At{315}{36.7}{O}\At{345}{73.4}{NH}\At{350}{23.7}{O}\At{398.5}{23.7}{OH}\At{457.4}{61.6}{O}\At{429.3}{98.8}{HO}}
\Mol{c04734}{1}{13.5}{\Bd{(19.6,51.5)--(63.8,51.5)--(70,72)}\Bd{(44,51.5)--(44,36)}\Db{(44,51.5)}{(44,71)}\Wg{(88.4,76.3)}{(70,72)}
 \Bd{(103.8,65)--(88.4,76.3)--(93.3,96)--(114.3,96)--(120.7,76.3)--cycle}\Hs{(93.3,96)}{(83,108)}\Hs{(114.3,96)}{(123,108)}\Wg{(120.7,76.3)}{(130,63)}
 \Bd{(131.9,59)--(127,39.6)--(142.4,29)--(157.8,39.6)--(153,60.4)--cycle}\Bd{(130,38)--(140,31)}\Bd{(154.5,42)--(150,57)}\Bd{(157.8,39.6)--(175.4,33.7)--(200,48.5)}\Db{(175.4,33.7)}{(181.7,14.2)}\Bd{(153,60.4)--(168.4,75)--(153,90)--(136.8,96)}\Db{(153,90)}{(167,109)}
 \At{19.6}{51.5}{HO}\At{44}{51.5}{P}\At{49}{31.4}{OH}\At{44}{71}{O}\At{63.8}{51.5}{O}\At{103.8}{65}{O}\At{75.8}{112}{HO}\At{128.4}{112}{OH}\At{131.9}{59}{N}\At{142.4}{29}{N}\At{181.7}{14.2}{O}\At{200}{48.5}{\Nt}\At{168.4}{75}{NH}\At{136.8}{96}{H}\At{167}{109}{O}}
\Mol{c00130}{1}{13.5}{\Bd{(19,101)--(65,101)--(80,94)}\Bd{(44,101)--(44,87)}\Db{(44,101)}{(44,120.7)}\Wg{(95.4,99.4)}{(80,94)}
 \Bd{(112,87.6)--(95.4,99.4)--(102.4,119)--(122,119)--(129,99.4)--cycle}\Hs{(102.4,119)}{(92,129)}\Hs{(122,119)}{(132,129)}\Wg{(129,99.4)}{(140,76)}
 \Bd{(143,70)--(156.4,55)--(143,38.5)--(127,48)--(127,64)--cycle}\Bd{(153,55)--(142,43)}\Bd{(124,50)--(124,62)}\Bd{(127,64)--(107.3,74.6)--(90.5,64)--(85,44.4)--(107.3,36)--(127,48)}\Db{(107.3,36)}{(107.3,15.4)}\Bd{(107,71)--(94,63)}
 \At{19}{101}{HO}\At{44}{101}{P}\At{50}{82}{OH}\At{44}{120.7}{O}\At{65}{101}{O}\At{112}{87.6}{O}\At{86}{133}{HO}\At{139.6}{133}{OH}\At{143}{70}{N}\At{143}{38.5}{N}\At{107.3}{74.6}{N}\At{85}{44.4}{HN}\At{107.3}{15.4}{O}}
\end{tikzpicture}
\end{document}
